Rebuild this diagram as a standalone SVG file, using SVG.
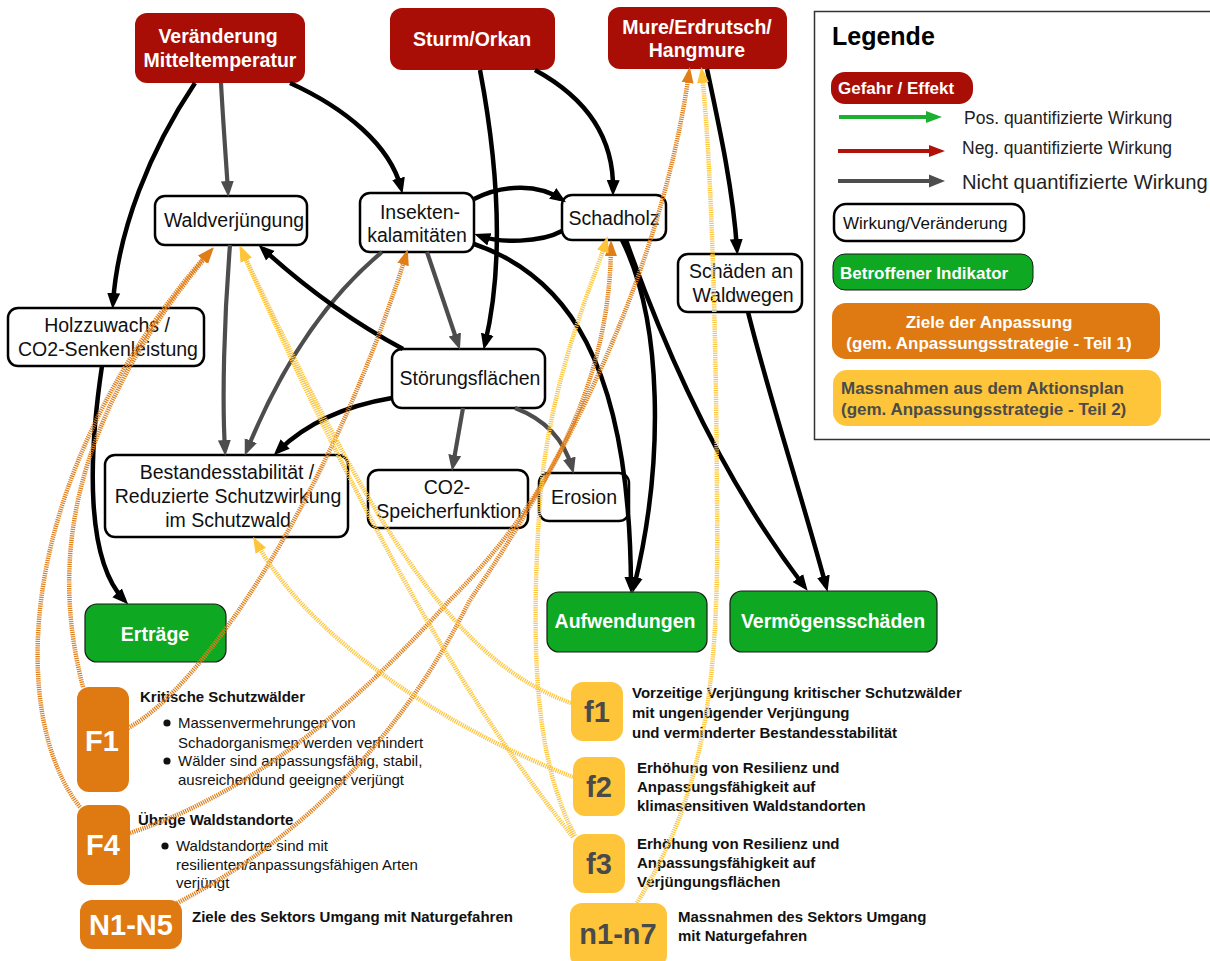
<svg xmlns="http://www.w3.org/2000/svg" width="1210" height="961" viewBox="0 0 1210 961">
  <style>
    text { font-family: "Liberation Sans", Arial, sans-serif; }
    .haz rect { fill: #A80E05; }
    .haz text { fill: #fff; font-weight: bold; font-size: 19.5px; text-anchor: middle; }
    .eff rect { fill: #fff; stroke: #000; stroke-width: 2.5; }
    .eff text { fill: #111; font-size: 19.5px; text-anchor: middle; }
    .ind rect { fill: #0FA822; stroke: #1a1a1a; stroke-width: 1.2; }
    .ind text { fill: #fff; font-weight: bold; font-size: 19.5px; text-anchor: middle; }
    .goal rect { fill: #DF7A13; }
    .goal text { fill: #fff; font-weight: bold; font-size: 29px; text-anchor: middle; }
    .meas rect { fill: #FEC53A; }
    .meas text { fill: #4A4A4A; font-weight: bold; font-size: 29px; text-anchor: middle; }
    .desc { fill: #111; font-size: 15px; }
    .desc-b { fill: #111; font-size: 15px; font-weight: bold; }
    .k { fill: none; stroke: #000; stroke-width: 4.5; marker-end: url(#ah-k); }
    .g { fill: none; stroke: #4D4D4D; stroke-width: 4.2; marker-end: url(#ah-g); }
    .o { fill: none; stroke: #E07D17; stroke-width: 4.5; stroke-dasharray: 1.2 1; marker-end: url(#ah-o); }
    .y { fill: none; stroke: #FEC53A; stroke-width: 4.5; stroke-dasharray: 1.2 1; marker-end: url(#ah-y); }
    .leg-t { fill: #222; font-size: 17.5px; }
    .leg-big { fill: #222; font-size: 20.2px; }
  </style>
  <defs>
    <marker id="ah-k" markerWidth="16" markerHeight="14" refX="10" refY="7" orient="auto" markerUnits="userSpaceOnUse"><path d="M0,0.5 L16,7 L0,13.5 z" fill="#000"/></marker>
    <marker id="ah-g" markerWidth="16" markerHeight="14" refX="10" refY="7" orient="auto" markerUnits="userSpaceOnUse"><path d="M0,0.5 L16,7 L0,13.5 z" fill="#4D4D4D"/></marker>
    <marker id="ah-o" markerWidth="16" markerHeight="14" refX="10" refY="7" orient="auto" markerUnits="userSpaceOnUse"><path d="M0,1 L16,7 L0,13 z" fill="#E07D17"/></marker>
    <marker id="ah-y" markerWidth="16" markerHeight="14" refX="10" refY="7" orient="auto" markerUnits="userSpaceOnUse"><path d="M0,1 L16,7 L0,13 z" fill="#FEC53A"/></marker>
    <marker id="ah-lg" markerWidth="16" markerHeight="14" refX="10" refY="7" orient="auto" markerUnits="userSpaceOnUse"><path d="M0,1 L16,7 L0,13 z" fill="#1DB030"/></marker>
    <marker id="ah-lr" markerWidth="16" markerHeight="14" refX="10" refY="7" orient="auto" markerUnits="userSpaceOnUse"><path d="M0,1 L16,7 L0,13 z" fill="#B0120A"/></marker>
  </defs>

  <rect width="1210" height="961" fill="#fff"/>

  <!-- legend -->
  <g id="legend">
    <rect x="814.5" y="11.5" width="420" height="428" fill="#fff" stroke="#333" stroke-width="1.5"/>
    <text x="832" y="45" font-size="25" font-weight="bold" fill="#000">Legende</text>
    <rect x="831" y="72" width="142" height="32" rx="14" fill="#A80E05"/>
    <text x="838" y="94" font-size="17" font-weight="bold" fill="#fff">Gefahr / Effekt</text>
    <path d="M839,117 L936,117" stroke="#1DB030" stroke-width="4" marker-end="url(#ah-lg)"/>
    <text class="leg-t" x="964" y="124">Pos. quantifizierte Wirkung</text>
    <path d="M838,151 L939,151" stroke="#B0120A" stroke-width="4" marker-end="url(#ah-lr)"/>
    <text class="leg-t" x="962" y="154">Neg. quantifizierte Wirkung</text>
    <path d="M838,181 L939,181" stroke="#4D4D4D" stroke-width="4" marker-end="url(#ah-g)"/>
    <text class="leg-big" x="962" y="189">Nicht quantifizierte Wirkung</text>
    <rect x="834" y="204" width="190" height="37" rx="12" fill="#fff" stroke="#000" stroke-width="2.5"/>
    <text x="843" y="229" font-size="17" fill="#111">Wirkung/Veränderung</text>
    <rect x="833" y="254" width="200" height="36" rx="12" fill="#0FA822" stroke="#1a1a1a" stroke-width="1"/>
    <text x="840" y="279" font-size="17" font-weight="bold" fill="#fff">Betroffener Indikator</text>
    <rect x="832" y="303" width="328" height="56" rx="14" fill="#DF7A13"/>
    <text x="989" y="328" font-size="17" font-weight="bold" fill="#fff" text-anchor="middle">Ziele der Anpassung</text>
    <text x="989" y="349" font-size="17" font-weight="bold" fill="#fff" text-anchor="middle">(gem. Anpassungsstrategie - Teil 1)</text>
    <rect x="833" y="370" width="328" height="56" rx="14" fill="#FEC53A"/>
    <text x="841" y="394" font-size="17" font-weight="bold" fill="#4A4A4A">Massnahmen aus dem Aktionsplan</text>
    <text x="841" y="415" font-size="17" font-weight="bold" fill="#4A4A4A">(gem. Anpassungsstrategie - Teil 2)</text>
  </g>

  <!-- hazards -->
  <g id="n-temperatur" class="haz">
    <rect x="135" y="13" width="170" height="70" rx="12"/>
    <text x="218" y="43">Veränderung</text>
    <text x="220" y="67">Mitteltemperatur</text>
  </g>
  <g id="n-sturm" class="haz">
    <rect x="390" y="8" width="165" height="62" rx="12"/>
    <text x="472" y="46">Sturm/Orkan</text>
  </g>
  <g id="n-mure" class="haz">
    <rect x="608" y="7" width="179" height="62" rx="12"/>
    <text x="697" y="34">Mure/Erdrutsch/</text>
    <text x="697" y="57">Hangmure</text>
  </g>

  <!-- effects -->
  <g id="n-waldverjuengung" class="eff">
    <rect x="155" y="196" width="152" height="49" rx="10"/>
    <text x="234" y="227">Waldverjüngung</text>
  </g>
  <g id="n-insekten" class="eff">
    <rect x="360" y="193" width="114" height="59" rx="10"/>
    <text x="420" y="218.5">Insekten-</text>
    <text x="417" y="241.5">kalamitäten</text>
  </g>
  <g id="n-schadholz" class="eff">
    <rect x="562" y="195" width="104" height="45" rx="10"/>
    <text x="614" y="225">Schadholz</text>
  </g>
  <g id="n-waldwege" class="eff">
    <rect x="678" y="254" width="124" height="58" rx="10"/>
    <text x="741" y="277.5">Schäden an</text>
    <text x="743" y="301.5">Waldwegen</text>
  </g>
  <g id="n-holzzuwachs" class="eff">
    <rect x="8" y="308" width="196" height="58" rx="10"/>
    <text x="107" y="331.5">Holzzuwachs /</text>
    <text x="108" y="355.5">CO2-Senkenleistung</text>
  </g>
  <g id="n-stoerung" class="eff">
    <rect x="392" y="349" width="153" height="59" rx="10"/>
    <text x="470" y="384.5">Störungsflächen</text>
  </g>
  <g id="n-bestand" class="eff">
    <rect x="105" y="455" width="243" height="82" rx="10"/>
    <text x="227" y="478.5">Bestandesstabilität /</text>
    <text x="228" y="502.5">Reduzierte Schutzwirkung</text>
    <text x="228" y="526.5">im Schutzwald</text>
  </g>
  <g id="n-co2speicher" class="eff">
    <rect x="368" y="470" width="160" height="58" rx="10"/>
    <text x="447" y="494">CO2-</text>
    <text x="449" y="517.5">Speicherfunktion</text>
  </g>
  <g id="n-erosion" class="eff">
    <rect x="539" y="473" width="90" height="48" rx="10"/>
    <text x="584" y="503.5">Erosion</text>
  </g>

  <!-- indicators -->
  <g id="n-ertraege" class="ind">
    <rect x="85" y="604" width="141" height="58" rx="12"/>
    <text x="155" y="641">Erträge</text>
  </g>
  <g id="n-aufwendungen" class="ind">
    <rect x="547" y="592" width="160" height="60" rx="12"/>
    <text x="625" y="628">Aufwendungen</text>
  </g>
  <g id="n-vermoegen" class="ind">
    <rect x="730" y="591" width="207" height="61" rx="12"/>
    <text x="833" y="628">Vermögensschäden</text>
  </g>

  <!-- adaptation goals -->
  <g id="g-F1" class="goal">
    <rect x="77" y="687" width="52" height="105" rx="12"/>
    <text x="102" y="750.5">F1</text>
  </g>
  <g id="g-F4" class="goal">
    <rect x="77" y="805" width="53" height="80" rx="12"/>
    <text x="103" y="855">F4</text>
  </g>
  <g id="g-N" class="goal">
    <rect x="80" y="900" width="102" height="49" rx="12"/>
    <text x="131" y="935">N1-N5</text>
  </g>
  <g id="g-F1-text">
    <text class="desc-b" x="140" y="702">Kritische Schutzwälder</text>
    <circle cx="167" cy="723" r="3.6" fill="#111"/>
    <text class="desc" x="178" y="728">Massenvermehrungen von</text>
    <text class="desc" x="178" y="747.5">Schadorganismen werden verhindert</text>
    <circle cx="167" cy="761" r="3.6" fill="#111"/>
    <text class="desc" x="178" y="766">Wälder sind anpassungsfähig, stabil,</text>
    <text class="desc" x="178" y="784.5">ausreichendund geeignet verjüngt</text>
  </g>
  <g id="g-F4-text">
    <text class="desc-b" x="138" y="824.5">Übrige Waldstandorte</text>
    <circle cx="165" cy="846" r="3.6" fill="#111"/>
    <text class="desc" x="176" y="851">Waldstandorte sind mit</text>
    <text class="desc" x="176" y="869.5">resilienten/anpassungsfähigen Arten</text>
    <text class="desc" x="176" y="888">verjüngt</text>
  </g>
  <g id="g-N-text">
    <text class="desc-b" x="192" y="922">Ziele des Sektors Umgang mit Naturgefahren</text>
  </g>

  <!-- action plan measures -->
  <g id="m-f1" class="meas">
    <rect x="571" y="682" width="52" height="59" rx="12"/>
    <text x="597" y="722">f1</text>
  </g>
  <g id="m-f2" class="meas">
    <rect x="573" y="757" width="52" height="59" rx="12"/>
    <text x="599" y="797">f2</text>
  </g>
  <g id="m-f3" class="meas">
    <rect x="573" y="834" width="52" height="59" rx="12"/>
    <text x="599" y="874">f3</text>
  </g>
  <g id="m-n" class="meas">
    <rect x="570" y="903" width="97" height="64" rx="12"/>
    <text x="618" y="944">n1-n7</text>
  </g>
  <g id="m-f1-text">
    <text class="desc-b" x="632" y="698">Vorzeitige Verjüngung kritischer Schutzwälder</text>
    <text class="desc-b" x="632" y="718">mit ungenügender Verjüngung</text>
    <text class="desc-b" x="632" y="737.5">und verminderter Bestandesstabilität</text>
  </g>
  <g id="m-f2-text">
    <text class="desc-b" x="637" y="773">Erhöhung von Resilienz und</text>
    <text class="desc-b" x="637" y="792">Anpassungsfähigkeit auf</text>
    <text class="desc-b" x="637" y="811">klimasensitiven Waldstandorten</text>
  </g>
  <g id="m-f3-text">
    <text class="desc-b" x="637" y="849">Erhöhung von Resilienz und</text>
    <text class="desc-b" x="637" y="868">Anpassungsfähigkeit auf</text>
    <text class="desc-b" x="637" y="887">Verjüngungsflächen</text>
  </g>
  <g id="m-n-text">
    <text class="desc-b" x="678" y="922">Massnahmen des Sektors Umgang</text>
    <text class="desc-b" x="678" y="941">mit Naturgefahren</text>
  </g>

  <!-- connectors (drawn over the boxes) -->
  <g id="connectors">
    <path class="k" d="M195,83 C150,150 118,230 113,303"/>
    <path class="g" d="M221,83 C223,120 226,160 228,191"/>
    <path class="k" d="M290,83 C345,108 390,145 401,188"/>
    <path class="k" d="M480,70 C497,160 505,260 485,344"/>
    <path class="k" d="M535,70 C590,100 614,140 613,190"/>
    <path class="k" d="M707,69 C720,130 733,190 737,249"/>
    <path class="k" d="M474,199 C505,183 540,185 561,199"/>
    <path class="k" d="M562,231 C540,243 500,243 480,236"/>
    <path class="k" d="M474,244 C565,275 630,360 631,587"/>
    <path class="k" d="M622,240 C662,320 665,460 634,587"/>
    <path class="k" d="M626,240 Q700,450 804,586"/>
    <path class="k" d="M748,312 C770,400 800,490 826,586"/>
    <path class="k" d="M102,366 C88,460 86,560 124,600"/>
    <path class="g" d="M230,245 C224,320 222,400 225,450"/>
    <path class="g" d="M382,252 Q300,320 247,450"/>
    <path class="k" d="M403,349 Q330,310 263,249"/>
    <path class="k" d="M392,398 Q320,410 278,451"/>
    <path class="g" d="M427,252 L458,344"/>
    <path class="g" d="M463,408 L453,465"/>
    <path class="g" d="M515,408 Q560,425 572,468"/>

    <path class="o" d="M83,687 C50,560 70,420 210,252"/>
    <path class="o" d="M80,807 C10,720 10,480 209,252"/>
    <path class="o" d="M128,728 C200,690 330,500 406,255"/>
    <path class="o" d="M130,833 C260,790 360,700 450,600 C550,500 610,380 611,246"/>
    <path class="o" d="M177,903 C300,840 400,740 470,600 C560,470 660,280 689,73"/>

    <path class="y" d="M571,703 C450,660 370,520 242,251"/>
    <path class="y" d="M573,837 C480,720 380,560 242,251"/>
    <path class="y" d="M573,777 C450,730 310,640 256,542"/>
    <path class="y" d="M575,836 C535,760 530,650 540,500 C550,380 590,290 606,242"/>
    <path class="y" d="M637,903 C700,800 720,700 717,500 C716,300 710,150 702,73"/>
  </g>
</svg>
